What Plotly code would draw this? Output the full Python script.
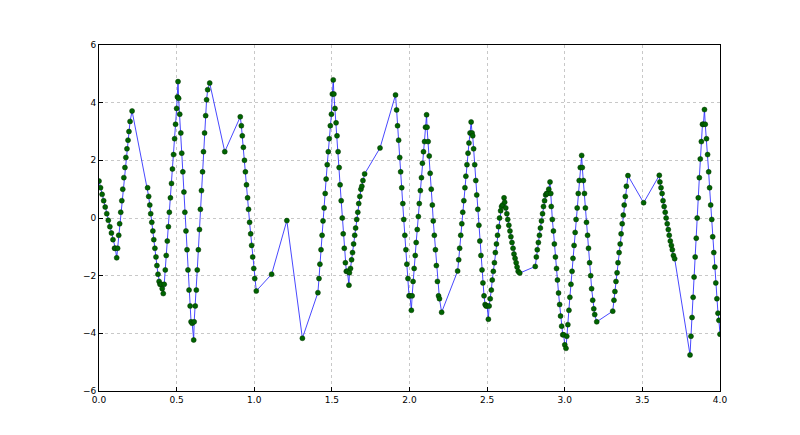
import plotly.graph_objects as go

x_vals = [
 0,0.01,0.02,0.03,0.04,0.05,0.06,0.07,0.08,0.09,0.10,0.105,0.114,
 0.12,0.127,0.133,0.14,0.147,0.153,0.16,0.167,0.173,0.18,0.187,0.193,0.2,0.213,
 0.313,
 0.32,0.327,0.333,0.34,0.347,0.353,0.36,0.367,0.373,0.38,0.387,0.393,0.40,0.407,0.414,
 0.42,0.427,0.433,0.44,0.447,0.453,0.46,0.467,0.473,0.48,0.487,0.493,0.50,0.505,0.509,
 0.513,0.52,0.527,0.533,0.54,0.547,0.553,0.56,0.567,0.573,0.58,0.587,0.593,0.60,0.61,
 0.613,0.62,0.627,0.633,0.64,0.647,0.653,0.66,0.667,0.673,0.68,0.687,0.693,0.70,0.713,
 0.81,0.91,
 0.917,0.923,0.93,0.937,0.943,0.95,0.957,0.963,0.97,0.977,0.983,0.99,0.997,1.003,1.013,
 1.112,1.21,1.31,1.41,
 1.417,1.423,1.43,1.437,1.443,1.45,1.457,1.463,1.47,1.477,1.483,1.49,1.497,1.503,1.509,
 1.513,1.52,1.527,1.533,1.54,1.547,1.553,1.56,1.567,1.573,1.58,1.587,1.593,1.60,1.61,
 1.613,1.62,1.627,1.633,1.64,1.647,1.653,1.66,1.667,1.673,1.68,1.687,1.693,1.70,1.711,
 1.81,1.91,
 1.917,1.923,1.93,1.937,1.943,1.95,1.957,1.963,1.97,1.977,1.983,1.99,1.997,2.003,2.012,
 2.017,2.023,2.03,2.037,2.043,2.05,2.057,2.063,2.07,2.077,2.083,2.09,2.097,2.103,2.11,
 2.113,2.12,2.127,2.133,2.14,2.147,2.153,2.16,2.167,2.173,2.18,2.187,2.193,2.207,
 2.31,
 2.317,2.323,2.33,2.337,2.343,2.35,2.357,2.363,2.37,2.377,2.383,2.39,2.397,2.403,2.407,
 2.413,2.42,2.427,2.433,2.44,2.447,2.453,2.46,2.467,2.473,2.48,2.487,2.493,2.50,2.508,
 2.513,2.52,2.527,2.533,2.54,2.547,2.553,2.56,2.567,2.573,2.58,2.587,2.593,2.60,2.609,
 2.613,2.62,2.627,2.633,2.64,2.647,2.653,2.66,2.667,2.673,2.68,2.687,2.693,2.70,2.71,
 2.81,
 2.817,2.823,2.83,2.837,2.843,2.85,2.857,2.863,2.87,2.877,2.883,2.89,2.897,2.905,2.91,
 2.913,2.92,2.927,2.933,2.94,2.947,2.953,2.96,2.967,2.973,2.98,2.987,2.993,3.0,3.008,
 3.013,3.02,3.027,3.033,3.04,3.047,3.053,3.06,3.067,3.073,3.08,3.087,3.093,3.10,3.109,
 3.113,3.12,3.127,3.133,3.14,3.147,3.153,3.16,3.167,3.173,3.18,3.187,3.193,3.206,
 3.309,
 3.317,3.323,3.33,3.337,3.343,3.35,3.357,3.363,3.37,3.377,3.383,3.39,3.397,3.407,
 3.508,3.609,
 3.613,3.62,3.627,3.633,3.64,3.647,3.653,3.66,3.667,3.673,3.68,3.687,3.693,3.70,3.708,
 3.807,
 3.813,3.82,3.827,3.833,3.84,3.847,3.853,3.86,3.867,3.873,3.88,3.887,3.893,3.90,3.905,
 3.913,3.92,3.927,3.933,3.94,3.947,3.953,3.96,3.967,3.973,3.98,3.987,3.993,4.0,
]
y_vals = [
 1.28,1.05,0.82,0.6,0.38,0.15,-0.08,-0.3,-0.52,-0.75,-1.05,-1.05,-1.38,
 -1.05,-0.6,-0.2,0.2,0.6,1.0,1.4,1.75,2.1,2.4,2.7,3.0,3.35,3.71,
 1.05,
 0.75,0.45,0.15,-0.15,-0.45,-0.75,-1.05,-1.35,-1.65,-1.95,-2.2,-2.3,-2.3,-2.45,-2.62,
 -2.3,-1.8,-1.3,-0.8,-0.3,0.2,0.7,1.2,1.7,2.2,2.75,3.25,3.8,4.2,4.73,
 4.15,3.6,2.95,2.25,1.6,0.9,0.2,-0.45,-1.1,-1.8,-2.5,-3.05,-3.6,-3.65,-4.23,
 -3.6,-3.05,-2.5,-1.8,-1.1,-0.4,0.3,0.95,1.6,2.3,2.95,3.55,4.1,4.45,4.68,
 2.3,3.51,
 3.2,2.85,2.45,2.0,1.6,1.15,0.7,0.3,-0.15,-0.55,-0.95,-1.35,-1.75,-2.1,-2.53,
 -1.95,-0.09,-4.17,-2.59,
 -2.1,-1.6,-1.1,-0.6,-0.1,0.35,0.85,1.35,1.85,2.3,2.75,3.2,3.6,4.3,4.79,
 4.3,3.8,3.3,2.85,2.3,1.75,1.15,0.6,0.0,-0.55,-1.05,-1.55,-1.85,-1.85,-2.33,
 -1.9,-1.75,-1.45,-1.2,-0.9,-0.6,-0.35,-0.05,0.2,0.5,0.75,1.0,1.1,1.3,1.53,
 2.43,4.27,
 3.75,3.2,2.7,2.1,1.6,1.05,0.5,-0.05,-0.6,-1.1,-1.6,-2.1,-2.7,-2.7,-3.2,
 -2.7,-2.2,-1.75,-1.3,-0.85,-0.4,0.05,0.5,0.95,1.4,1.9,2.3,2.65,3.15,3.58,
 3.15,2.65,2.15,1.55,1.0,0.45,-0.1,-0.6,-1.1,-1.65,-2.2,-2.7,-2.8,-3.27,
 -1.84,
 -1.45,-1.05,-0.6,-0.2,0.2,0.6,1.05,1.45,1.85,2.25,2.6,2.95,3.33,2.95,2.85,
 2.4,1.85,1.3,0.8,0.3,-0.25,-0.8,-1.3,-1.8,-2.25,-2.7,-3.0,-3.05,-3.05,-3.51,
 -3.05,-2.8,-2.5,-2.15,-1.85,-1.55,-1.2,-0.9,-0.6,-0.3,0.0,0.25,0.4,0.45,0.7,
 0.55,0.35,0.15,-0.05,-0.25,-0.45,-0.65,-0.85,-1.05,-1.25,-1.4,-1.55,-1.7,-1.85,-1.91,
 -1.68,
 -1.35,-1.1,-0.85,-0.6,-0.35,-0.1,0.15,0.4,0.6,0.8,0.85,0.85,1.0,1.25,0.85,
 0.4,-0.05,-0.45,-0.9,-1.35,-1.75,-2.15,-2.6,-3.0,-3.4,-3.75,-4.05,-4.05,-4.4,-4.52,
 -4.1,-3.7,-3.2,-2.75,-2.3,-1.85,-1.4,-0.95,-0.5,-0.05,0.35,0.85,1.3,1.75,2.17,
 1.75,1.3,0.85,0.35,-0.15,-0.6,-1.05,-1.55,-2.0,-2.45,-2.85,-3.15,-3.35,-3.6,
 -3.23,
 -2.85,-2.55,-2.2,-1.9,-1.55,-1.2,-0.9,-0.55,-0.2,0.1,0.45,0.75,1.1,1.47,
 0.53,1.48,
 1.25,1.05,0.85,0.6,0.4,0.2,0.0,-0.2,-0.4,-0.6,-0.8,-0.95,-1.1,-1.3,-1.41,
 -4.75,
 -4.1,-3.45,-2.75,-2.05,-1.35,-0.7,0.0,0.7,1.4,2.05,2.65,3.25,3.25,3.76,3.25,
 2.75,2.2,1.6,1.05,0.45,-0.05,-0.65,-1.2,-1.7,-2.25,-2.8,-3.3,-3.55,-4.03,
]

x_ticks = [0.0,0.5,1.0,1.5,2.0,2.5,3.0,3.5,4.0]
y_ticks = [-6,-4,-2,0,2,4,6]

fig = go.Figure(go.Scatter(
    x=x_vals, y=y_vals, mode="lines+markers",
    line=dict(color="rgba(40,40,255,0.85)", width=1),
    marker=dict(color="#006400", size=5, line=dict(color="#003300", width=0.5)),
))
ax = dict(showline=True, mirror=True, linecolor="black", linewidth=1,
          showgrid=True, gridcolor="#c8c8c8", griddash="dot", gridwidth=1,
          zeroline=False, ticks="inside", ticklen=4, tickcolor="black",
          tickfont=dict(family="DejaVu Sans", size=9, color="black"))
fig.update_xaxes(range=[0,4], tickvals=x_ticks, ticktext=[f"{v:.1f}" for v in x_ticks], **ax)
fig.update_yaxes(range=[-6,6], tickvals=y_ticks, **ax)
fig.update_layout(width=800, height=435, margin=dict(l=91, r=88, t=37, b=52),
                  plot_bgcolor="white", paper_bgcolor="white", showlegend=False)
fig.write_html("out.html")
